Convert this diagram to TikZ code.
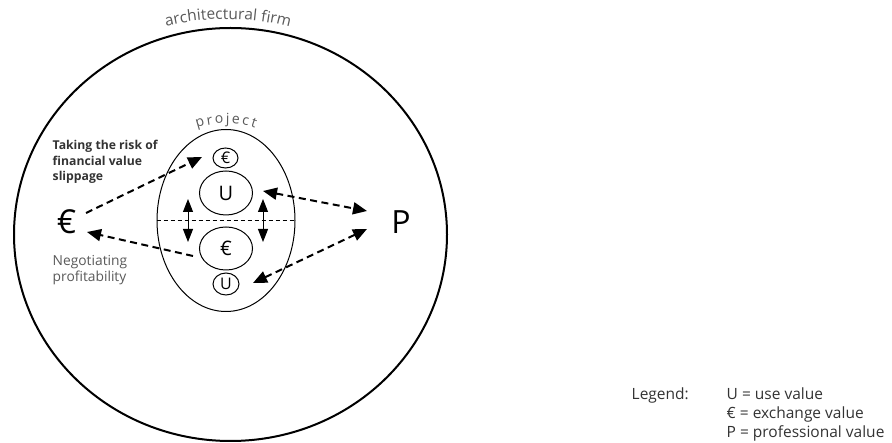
\documentclass[tikz,border=0pt]{standalone}
\usepackage{fontspec}
\setmainfont{Open Sans}
\usetikzlibrary{arrows.meta,shapes.geometric,calc,decorations.text}
\definecolor{txtdark}{HTML}{333333}
\definecolor{txtgray}{HTML}{5A5A5A}
\begin{document}
\begin{tikzpicture}[x=1pt,y=-1pt,
  oval/.style={draw,ellipse,inner sep=0pt,line width=1pt},
  dasharrow/.style={line width=2pt,dash pattern=on 7pt off 4.5pt,-{Triangle[length=14pt,width=12pt]}},
  dashdouble/.style={line width=2pt,dash pattern=on 7pt off 4.5pt,{Triangle[length=14pt,width=12pt]}-{Triangle[length=14pt,width=12pt]}},
  vdouble/.style={line width=1pt,{Triangle[length=13pt,width=10pt]}-{Triangle[length=13pt,width=10pt]}},
  lbl/.style={anchor=base west,inner sep=0pt,font=\fontsize{13.8}{13.8}\selectfont},
  boldlbl/.style={anchor=base west,inner sep=0pt,text=txtdark,font=\bfseries\fontsize{12.2}{12.2}\selectfont},
  leg/.style={anchor=base west,inner sep=0pt,text=txtdark,font=\fontsize{15.5}{15.5}\selectfont}]
\useasboundingbox (0,0) rectangle (892,443);
\fill[white] (0,0) rectangle (892,443);

% outer firm circle
\node[oval,line width=2pt,minimum width=433pt,minimum height=413pt] (firm) at (230.5,234.5) {};
\path[decorate,decoration={text along path,text align=center,
  text={|\fontsize{15.5}{15.5}\selectfont\color{txtgray}|architectural firm}}]
  (160,28) .. controls (200,16) and (255,16) .. (296,29);

% project ellipse
\node[oval,minimum width=138pt,minimum height=182pt] (proj) at (226,220.5) {};
\draw[line width=0.8pt,dash pattern=on 4pt off 3pt] (proj.west) -- (proj.east);
\path[decorate,decoration={text along path,text align={fit to path},
  text={|\fontsize{14}{14}\selectfont\color{txtgray}|project}}]
  (197,128) .. controls (212,122) and (240,122) .. (255,128);

% inner value circles
\node[oval,minimum width=25pt,minimum height=20pt,font=\fontsize{16}{16}\selectfont] (seuro) at (225.5,158) {€};
\node[oval,minimum width=53pt,minimum height=44pt,font=\fontsize{20}{20}\selectfont] (U) at (226,193) {U};
\node[oval,minimum width=53pt,minimum height=43pt,font=\fontsize{20}{20}\selectfont] (beuro) at (226,248.5) {€};
\node[oval,minimum width=26pt,minimum height=22pt,font=\fontsize{16}{16}\selectfont] (sU) at (226,284) {U};

% big labels
\node[inner sep=0pt,font=\fontsize{33}{33}\selectfont] (euro) at (66.5,222) {€};
\node[inner sep=0pt,font=\fontsize{32}{32}\selectfont] (P) at (401,222) {P};

% arrow end points
\coordinate (a1s) at ($(euro)+(19.5,-9)$);
\coordinate (a1e) at ($(seuro)+(-23.5,-1)$);
\coordinate (a2s) at ($(beuro)+(-33,7.5)$);
\coordinate (a2e) at ($(euro)+(20.5,10)$);
\coordinate (a3s) at ($(U)+(37,-2)$);
\coordinate (a3e) at ($(P)+(-34,-11)$);
\coordinate (a4s) at ($(P)+(-34,7)$);
\coordinate (a4e) at ($(sU)+(27,-1)$);
\coordinate (v1t) at ($(proj)+(-38,-21.5)$);
\coordinate (v1b) at ($(proj)+(-38,21.5)$);
\coordinate (v2t) at ($(proj)+(37,-21.5)$);
\coordinate (v2b) at ($(proj)+(37,21.5)$);

\draw[dasharrow] (a1s) -- (a1e);
\draw[dasharrow] (a2s) -- (a2e);
\draw[dashdouble] (a3s) -- (a3e);
\draw[dashdouble] (a4s) -- (a4e);
\draw[vdouble] (v1t) -- (v1b);
\draw[vdouble] (v2t) -- (v2b);

% side texts
\node[boldlbl] (risk1) at (52.5,150) {Taking the risk of};
\node[boldlbl] (risk2) at (52.5,165.5) {financial value};
\node[boldlbl] (risk3) at (52.5,181) {slippage};
\node[lbl,text=txtgray] (neg1) at (52.5,266) {Negotiating};
\node[lbl,text=txtgray] (neg2) at (52.5,281.5) {profitability};

% legend
\node[leg] (legend) at (631.5,399.5) {Legend:};
\node[leg] (legU) at (726.5,399.5) {U = use value};
\node[leg] (legE) at (726.5,419) {€ = exchange value};
\node[leg] (legP) at (726.5,438) {P = professional value};
\end{tikzpicture}
\end{document}
